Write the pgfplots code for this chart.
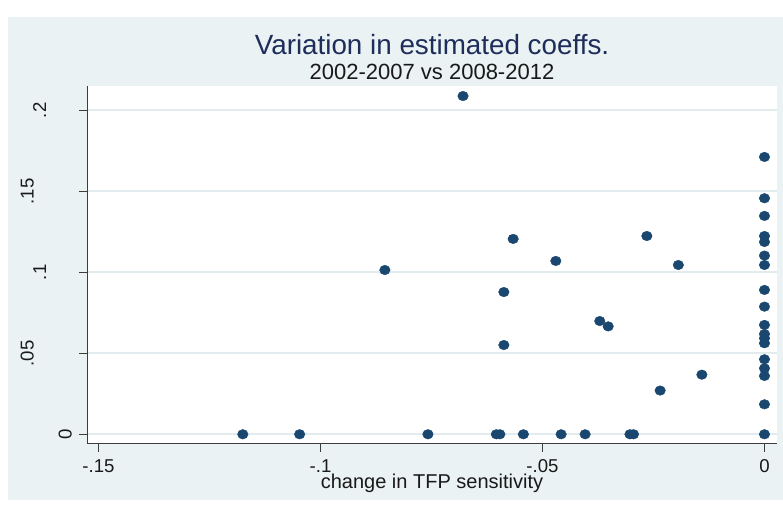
\documentclass[border=0pt]{standalone}
\usepackage{pgfplots}
\pgfplotsset{compat=1.18}
\usepackage{fontspec}
\setmainfont{Liberation Sans}
\definecolor{bgc}{RGB}{234,242,243}
\definecolor{gridc}{RGB}{226,235,238}
\definecolor{mk}{RGB}{26,71,111}
\definecolor{titlec}{RGB}{30,45,90}
\definecolor{axc}{RGB}{60,60,60}

\begin{document}
\begin{tikzpicture}[x=1pt,y=1pt]
\path[use as bounding box] (0,0) rectangle (391.5,254);
% graph region
\fill[bgc] (4,4) rectangle (391.5,245.5);
\begin{axis}[
  at={(43.5pt,32pt)}, anchor=south west,
  scale only axis, width=345pt, height=179pt,
  xmin=-0.15259, xmax=0.00282, ymin=-0.006, ymax=0.215,
  axis x line*=bottom, axis y line*=left,
  axis line style={axc, line width=0.5pt},
  axis background/.style={fill=white},
  tick align=outside, major tick length=4pt,
  tick style={axc, line width=0.5pt},
  xtick={-0.15,-0.1,-0.05,0}, xticklabels={-.15,-.1,-.05,0},
  ytick={0,0.05,0.1,0.15,0.2},
  % vertical labels, set further out the more characters they have
  yticklabel={\ifcase\ticknum\relax \raisebox{3.5pt}{0}\or\raisebox{22.5pt}{.05}\or\raisebox{16.25pt}{.1}\or\raisebox{22.5pt}{.15}\or\raisebox{16.25pt}{.2}\fi},
  ymajorgrids, major grid style={gridc, line width=0.8pt},
  ticklabel style={font=\fontsize{9.3}{11}\selectfont, text=black!90},
  xticklabel style={anchor=north, inner sep=0pt, yshift=-3.5pt},
  yticklabel style={rotate=90, anchor=south, inner sep=0pt},
  xlabel={change in TFP sensitivity},
  xlabel style={at={(axis description cs:0.5,0)}, anchor=base, yshift=-22.5pt, font=\fontsize{10}{12}\selectfont, text=black!90},
]
\addplot[only marks, mark=*, mark size=2.4pt, mark options={fill=mk, draw=mk, line width=0.2pt, xscale=1.1}] table {
x y
-0.0679 0.2088
-0.0855 0.1014
-0.0566 0.1206
-0.0470 0.1070
-0.0587 0.0878
-0.0587 0.0551
-0.0371 0.0699
-0.0352 0.0666
-0.0265 0.1224
-0.0194 0.1045
-0.0235 0.0270
-0.0141 0.0368
-0.1175 0
-0.1047 0
-0.0758 0
-0.0604 0
-0.0596 0
-0.0543 0
-0.0458 0
-0.0404 0
-0.0303 0
-0.0295 0
0 0.1712
0 0.1457
0 0.1348
0 0.1224
0 0.1187
0 0.1103
0 0.1045
0 0.0891
0 0.0788
0 0.0675
0 0.0619
0 0.0593
0 0.0562
0 0.0463
0 0.0407
0 0.0360
0 0.0185
0 0
};
\end{axis}
\node[anchor=base, font=\fontsize{13.9}{16}\selectfont, text=titlec] at (216,226.5) {Variation in estimated coeffs.};
\node[anchor=base, font=\fontsize{11}{13}\selectfont, text=black!90] at (216,214) {2002-2007 vs 2008-2012};
\end{tikzpicture}
\end{document}
